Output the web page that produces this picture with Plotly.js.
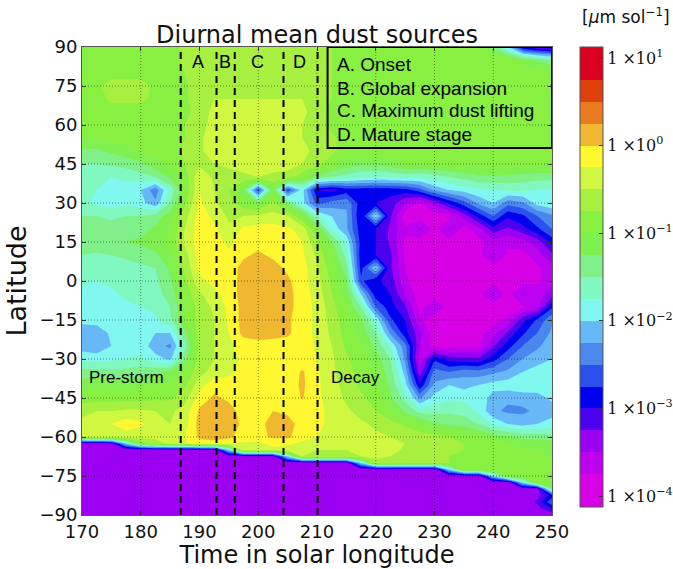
<!DOCTYPE html>
<html><head><meta charset="utf-8">
<script src="https://cdn.plot.ly/plotly-3.0.1.min.js"></script>
<style>html,body{margin:0;padding:0;background:#fff}#chart{width:673px;height:569px}</style>
</head><body><div id="chart"></div>
<script>
// Solar longitude columns
const LS = [170,172.5,175,177.5,180,182.5,185,187.5,190,192.5,195,197.5,200,202.5,205,207.5,210,212.5,215,217.5,220,222.5,225,227.5,230,232.5,235,237.5,240,242.5,245,247.5,250];
// Latitude rows (north to south)
const LAT = [90,85,80,75,70,65,60,55,50,45,40,35,30,25,20,15,10,5,0,-5,-10,-15,-20,-25,-30,-35,-40,-45,-50,-55,-60,-62.5,-65,-67.5,-70,-72.5,-75,-77.5,-80,-82.5,-85,-87.5,-90];
// log10 of dust source (um/sol), rows follow LAT, columns follow LS
const LOGDUST = [
[-0.85,-0.85,-0.85,-0.85,-0.85,-0.85,-0.85,-0.7,-0.6,-0.6,-0.6,-0.6,-0.6,-0.6,-0.6,-0.6,-0.6,-0.75,-0.88,-0.88,-0.88,-0.88,-0.88,-0.88,-0.88,-0.88,-0.88,-0.88,-1.3,-2.0,-3.0,-3.3,-3.4],
[-0.85,-0.85,-0.85,-0.85,-0.85,-0.85,-0.85,-0.7,-0.6,-0.6,-0.6,-0.6,-0.6,-0.6,-0.6,-0.6,-0.6,-0.75,-0.88,-0.88,-0.88,-0.88,-0.88,-0.88,-0.88,-0.88,-0.88,-0.88,-0.88,-0.88,-1.1,-1.3,-1.5],
[-0.85,-0.85,-0.85,-0.85,-0.85,-0.85,-0.85,-0.75,-0.6,-0.6,-0.6,-0.6,-0.6,-0.6,-0.6,-0.6,-0.6,-0.75,-0.88,-0.88,-0.88,-0.88,-0.88,-0.88,-0.88,-0.88,-0.88,-0.88,-0.88,-0.88,-0.88,-0.88,-0.88],
[-0.85,-0.8,-0.65,-0.65,-0.65,-0.8,-0.8,-0.8,-0.58,-0.58,-0.58,-0.58,-0.58,-0.58,-0.58,-0.58,-0.58,-0.75,-0.88,-0.88,-0.88,-0.88,-0.88,-0.88,-0.88,-0.88,-0.88,-0.88,-0.88,-0.88,-0.88,-0.88,-0.88],
[-0.85,-0.85,-0.7,-0.7,-0.7,-0.8,-0.8,-0.8,-0.6,-0.5,-0.5,-0.5,-0.5,-0.5,-0.5,-0.5,-0.6,-0.75,-0.88,-0.88,-0.88,-0.88,-0.88,-0.88,-0.88,-0.88,-0.88,-0.88,-0.88,-0.88,-0.88,-0.88,-0.88],
[-0.85,-0.85,-0.85,-0.85,-0.85,-0.85,-0.85,-0.85,-0.6,-0.45,-0.45,-0.45,-0.45,-0.45,-0.45,-0.45,-0.6,-0.85,-0.85,-0.85,-0.85,-0.85,-0.85,-0.85,-0.85,-0.85,-0.85,-0.85,-0.85,-0.85,-0.85,-0.85,-0.85],
[-0.9,-0.9,-0.9,-0.9,-0.9,-0.9,-0.9,-0.75,-0.6,-0.4,-0.4,-0.4,-0.4,-0.4,-0.4,-0.5,-0.6,-0.85,-0.85,-0.85,-0.85,-0.85,-0.85,-0.85,-0.85,-0.85,-0.85,-0.85,-0.85,-0.85,-0.85,-0.85,-0.85],
[-1.0,-1.0,-0.9,-0.9,-0.9,-0.9,-0.9,-0.75,-0.55,-0.35,-0.35,-0.35,-0.35,-0.35,-0.35,-0.5,-0.6,-0.7,-0.85,-0.85,-0.85,-0.85,-0.85,-0.85,-0.85,-0.85,-0.85,-0.85,-0.85,-0.85,-0.85,-0.85,-0.85],
[-1.3,-1.3,-1.2,-1.1,-0.95,-0.9,-0.88,-0.7,-0.55,-0.35,-0.35,-0.35,-0.35,-0.35,-0.35,-0.45,-0.55,-0.7,-0.85,-0.85,-0.85,-0.85,-0.85,-0.85,-0.85,-0.85,-0.85,-0.85,-0.85,-0.85,-0.85,-0.85,-0.85],
[-1.5,-1.5,-1.45,-1.4,-1.3,-1.1,-0.95,-0.75,-0.55,-0.5,-0.45,-0.4,-0.4,-0.4,-0.4,-0.5,-0.65,-0.9,-1.1,-1.2,-1.2,-1.1,-1.0,-1.0,-0.95,-0.9,-0.9,-0.9,-0.9,-0.9,-0.9,-0.9,-0.9],
[-1.65,-1.7,-1.75,-1.7,-1.6,-1.5,-1.2,-0.9,-0.3,-0.55,-0.6,-0.55,-0.5,-0.55,-0.6,-0.9,-1.3,-1.5,-1.6,-1.7,-1.75,-1.7,-1.65,-1.7,-1.6,-1.5,-1.4,-1.3,-1.3,-1.3,-1.35,-1.4,-1.4],
[-1.7,-1.75,-1.8,-1.85,-2.0,-2.4,-1.7,-1.0,-0.25,-0.5,-0.75,-1.2,-2.7,-1.1,-2.7,-1.9,-3.0,-3.1,-2.9,-2.9,-2.9,-2.9,-2.85,-2.6,-2.2,-2.0,-1.9,-1.8,-1.75,-1.7,-1.7,-1.75,-1.8],
[-1.7,-1.8,-1.85,-1.8,-1.9,-2.2,-1.5,-0.8,-0.2,-0.45,-0.7,-0.9,-1.2,-0.7,-1.3,-1.9,-2.6,-2.4,-2.3,-2.9,-3.0,-3.1,-3.5,-3.8,-3.4,-2.95,-2.6,-2.2,-2.0,-2.4,-2.3,-1.9,-1.8],
[-1.5,-1.5,-1.55,-1.5,-1.5,-1.4,-1.1,-0.6,-0.15,-0.3,-0.55,-0.5,-0.45,-0.4,-0.5,-1.0,-1.7,-2.0,-2.2,-3.0,-1.9,-3.2,-3.9,-3.9,-3.9,-3.85,-3.4,-2.9,-2.5,-2.95,-2.8,-2.5,-2.3],
[-1.4,-1.35,-1.4,-1.4,-1.35,-1.2,-1.0,-0.5,-0.12,-0.2,-0.45,-0.2,-0.15,-0.15,-0.2,-0.35,-1.0,-1.8,-2.2,-2.9,-3.0,-3.3,-3.7,-3.45,-3.85,-3.45,-3.85,-3.6,-3.1,-3.3,-3.1,-2.8,-2.5],
[-1.35,-1.3,-1.3,-1.25,-1.2,-1.1,-0.95,-0.45,-0.1,-0.15,-0.3,-0.15,-0.1,-0.12,-0.15,-0.25,-0.7,-1.2,-1.8,-2.85,-3.0,-3.3,-3.8,-3.9,-3.9,-3.85,-3.9,-3.85,-3.6,-3.7,-3.6,-3.4,-2.9],
[-1.5,-1.55,-1.5,-1.45,-1.4,-1.3,-1.1,-0.6,-0.15,-0.2,-0.2,-0.05,0.05,-0.05,-0.1,-0.2,-0.55,-1.0,-1.6,-2.9,-3.0,-3.2,-3.8,-3.9,-3.9,-3.9,-3.9,-3.85,-3.45,-3.8,-3.85,-3.6,-3.3],
[-1.65,-1.7,-1.65,-1.6,-1.55,-1.5,-1.2,-0.7,-0.2,-0.25,-0.15,0.1,0.15,0.1,-0.05,-0.15,-0.45,-0.9,-1.4,-2.85,-2.0,-3.2,-3.75,-3.9,-3.9,-3.9,-3.9,-3.9,-3.85,-3.9,-3.9,-3.8,-3.6],
[-1.7,-1.75,-1.7,-1.65,-1.6,-1.55,-1.3,-0.8,-0.3,-0.2,-0.15,0.12,0.18,0.15,0.05,-0.15,-0.4,-0.8,-1.2,-2.7,-2.95,-3.1,-3.7,-3.9,-3.9,-3.9,-3.9,-3.9,-3.85,-3.9,-3.85,-3.8,-3.6],
[-1.85,-1.9,-1.8,-1.7,-1.65,-1.6,-1.4,-0.9,-0.55,-0.3,-0.15,0.12,0.2,0.18,0.08,-0.12,-0.35,-0.75,-1.1,-2.0,-2.9,-3.0,-3.5,-3.9,-3.9,-3.9,-3.9,-3.85,-3.45,-3.85,-3.45,-3.6,-3.4],
[-1.9,-1.9,-1.85,-1.8,-1.75,-1.7,-1.5,-1.0,-0.65,-0.45,-0.2,0.1,0.2,0.2,0.1,-0.15,-0.3,-0.65,-1.0,-1.5,-2.5,-2.9,-3.2,-3.85,-3.5,-3.9,-3.9,-3.9,-3.9,-3.85,-3.8,-3.6,-2.8],
[-1.95,-1.9,-1.9,-1.85,-1.8,-1.8,-1.55,-1.0,-0.65,-0.5,-0.2,0.1,0.18,0.15,0.05,-0.15,-0.3,-0.6,-0.9,-1.2,-1.8,-2.7,-3.0,-3.7,-3.9,-3.9,-3.9,-3.9,-3.85,-3.7,-3.1,-2.7,-2.3],
[-2.1,-2.15,-1.95,-1.85,-1.8,-2.0,-2.0,-1.3,-0.65,-0.5,-0.25,0.08,0.12,0.1,0.05,-0.15,-0.3,-0.55,-0.85,-1.1,-1.5,-2.3,-2.9,-3.4,-3.9,-3.85,-3.85,-3.85,-3.6,-3.2,-2.8,-2.5,-2.2],
[-2.15,-2.2,-2.0,-1.9,-1.85,-2.15,-2.3,-1.6,-0.65,-0.5,-0.3,-0.15,-0.1,-0.12,-0.12,-0.15,-0.28,-0.5,-0.8,-1.0,-1.3,-1.8,-2.4,-3.5,-3.85,-3.85,-3.8,-3.8,-3.3,-2.85,-2.5,-2.3,-2.1],
[-1.8,-1.85,-1.8,-1.75,-1.7,-1.9,-2.05,-1.3,-0.65,-0.5,-0.35,-0.2,0.02,-0.15,-0.15,-0.12,-0.25,-0.45,-0.7,-0.9,-1.1,-1.5,-2.3,-3.7,-2.8,-3.1,-3.15,-3.2,-2.85,-2.5,-2.25,-2.1,-2.0],
[-1.4,-1.4,-1.45,-1.4,-1.35,-1.3,-1.2,-0.95,-0.6,-0.4,-0.3,-0.2,-0.15,-0.15,-0.15,0.03,-0.2,-0.45,-0.65,-0.85,-1.0,-1.4,-2.1,-3.4,-2.4,-2.5,-2.35,-2.4,-2.3,-2.2,-2.0,-1.9,-1.85],
[-1.1,-1.05,-1.1,-1.1,-1.05,-1.0,-0.95,-0.8,-0.35,-0.1,-0.15,-0.15,-0.12,-0.15,-0.15,0.05,-0.2,-0.4,-0.6,-0.8,-0.95,-1.3,-1.9,-2.95,-2.2,-2.0,-2.1,-2.0,-1.9,-1.85,-1.8,-1.85,-1.8],
[-0.9,-0.85,-0.85,-0.85,-0.85,-0.8,-0.8,-0.6,-0.15,0.05,-0.05,-0.12,-0.15,-0.15,-0.15,0.02,-0.2,-0.35,-0.55,-0.7,-0.85,-1.2,-1.6,-2.3,-1.9,-1.8,-1.8,-1.85,-2.1,-2.2,-2.15,-2.1,-1.95],
[-0.55,-0.5,-0.5,-0.45,-0.45,-0.5,-0.55,-0.4,0.05,0.15,0.1,-0.1,-0.12,0.0,-0.05,-0.1,-0.2,-0.3,-0.45,-0.6,-0.75,-1.0,-1.3,-1.6,-1.6,-1.55,-1.6,-1.8,-2.2,-2.3,-2.3,-2.2,-2.1],
[-0.45,-0.4,-0.25,-0.1,-0.2,-0.4,-0.5,-0.35,0.1,0.15,0.12,-0.05,-0.1,0.12,0.1,-0.1,-0.2,-0.3,-0.35,-0.45,-0.55,-0.65,-0.8,-1.0,-1.2,-1.3,-1.35,-1.5,-1.8,-2.0,-2.1,-2.0,-1.9],
[-0.5,-0.45,-0.4,-0.4,-0.4,-0.45,-0.4,-0.25,0.05,0.1,0.05,-0.1,-0.1,0.05,0.05,-0.15,-0.25,-0.4,-0.45,-0.45,-0.45,-0.5,-0.55,-0.6,-0.65,-0.75,-0.85,-0.95,-1.1,-1.2,-1.3,-1.35,-1.4],
[-3.4,-3.4,-3.3,-2.0,-0.9,-0.6,-0.45,-0.3,-0.1,-0.1,-0.2,-0.3,-0.3,-0.2,-0.2,-0.3,-0.35,-0.4,-0.45,-0.4,-0.3,-0.35,-0.5,-0.6,-0.65,-0.7,-0.75,-0.8,-0.9,-1.0,-1.1,-1.1,-1.1],
[-3.4,-3.4,-3.4,-3.4,-3.4,-3.4,-3.4,-3.4,-3.4,-3.4,-2.0,-0.35,-0.35,-0.3,-0.35,-0.45,-0.5,-0.5,-0.5,-0.35,-0.3,-0.4,-0.55,-0.6,-0.65,-0.7,-0.75,-0.8,-0.85,-0.9,-0.95,-1.0,-1.0],
[-3.4,-3.4,-3.4,-3.4,-3.4,-3.4,-3.4,-3.4,-3.4,-3.4,-3.4,-3.4,-3.4,-3.4,-2.0,-0.5,-0.5,-0.55,-0.55,-0.5,-0.45,-0.5,-0.6,-0.65,-0.7,-0.75,-0.8,-0.8,-0.85,-0.9,-0.9,-0.95,-1.0],
[-3.4,-3.4,-3.4,-3.4,-3.4,-3.4,-3.4,-3.4,-3.4,-3.4,-3.4,-3.4,-3.4,-3.4,-3.4,-3.4,-3.4,-3.4,-3.4,-2.0,-0.6,-0.6,-0.65,-0.7,-0.7,-0.75,-0.8,-0.8,-0.85,-0.85,-0.9,-0.9,-0.95],
[-3.4,-3.4,-3.4,-3.4,-3.4,-3.4,-3.4,-3.4,-3.4,-3.4,-3.4,-3.4,-3.4,-3.4,-3.4,-3.4,-3.4,-3.4,-3.4,-3.4,-3.4,-3.4,-3.4,-3.4,-3.4,-2.0,-0.8,-0.8,-0.8,-0.85,-0.85,-0.85,-0.9],
[-3.4,-3.4,-3.4,-3.4,-3.4,-3.4,-3.4,-3.4,-3.4,-3.4,-3.4,-3.4,-3.4,-3.4,-3.4,-3.4,-3.4,-3.4,-3.4,-3.4,-3.4,-3.4,-3.4,-3.4,-3.4,-3.4,-3.4,-3.4,-2.0,-0.85,-0.85,-0.9,-0.9],
[-3.4,-3.4,-3.4,-3.4,-3.4,-3.4,-3.4,-3.4,-3.4,-3.4,-3.4,-3.4,-3.4,-3.4,-3.4,-3.4,-3.4,-3.4,-3.4,-3.4,-3.4,-3.4,-3.4,-3.4,-3.4,-3.4,-3.4,-3.4,-3.4,-3.4,-2.0,-0.9,-1.0],
[-3.4,-3.4,-3.4,-3.4,-3.4,-3.4,-3.4,-3.4,-3.4,-3.4,-3.4,-3.4,-3.4,-3.4,-3.4,-3.4,-3.4,-3.4,-3.4,-3.4,-3.4,-3.4,-3.4,-3.4,-3.4,-3.4,-3.4,-3.4,-3.4,-3.4,-3.4,-3.4,-1.3],
[-3.4,-3.4,-3.4,-3.4,-3.4,-3.4,-3.4,-3.4,-3.4,-3.4,-3.4,-3.4,-3.4,-3.4,-3.4,-3.4,-3.4,-3.4,-3.4,-3.4,-3.4,-3.4,-3.4,-3.4,-3.4,-3.4,-3.4,-3.4,-3.4,-3.4,-3.4,-3.35,-2.9],
[-3.4,-3.4,-3.4,-3.4,-3.4,-3.4,-3.4,-3.4,-3.4,-3.4,-3.4,-3.4,-3.4,-3.4,-3.4,-3.4,-3.4,-3.4,-3.4,-3.4,-3.4,-3.4,-3.4,-3.4,-3.4,-3.4,-3.4,-3.4,-3.4,-3.4,-3.4,-3.2,-2.5],
[-3.4,-3.4,-3.4,-3.4,-3.4,-3.4,-3.4,-3.4,-3.4,-3.4,-3.4,-3.4,-3.4,-3.4,-3.4,-3.4,-3.4,-3.4,-3.4,-3.4,-3.4,-3.4,-3.4,-3.4,-3.4,-3.4,-3.4,-3.4,-3.4,-3.4,-3.4,-3.35,-3.0],
[-3.4,-3.4,-3.4,-3.4,-3.4,-3.4,-3.4,-3.4,-3.4,-3.4,-3.4,-3.4,-3.4,-3.4,-3.4,-3.4,-3.4,-3.4,-3.4,-3.4,-3.4,-3.4,-3.4,-3.4,-3.4,-3.4,-3.4,-3.4,-3.4,-3.4,-3.4,-3.4,-3.4]
];
// Discrete band colours: below-range, 20 bands from 1e-4 to 1e1, above-range
const BAND_COLORS = ['#d800e4','#d800e4','#bc00f0','#9c00f2','#4c00f0','#0000f0','#2a50f0','#4a88ee','#68b8f8','#80f8f0','#80f8c0','#80f088','#80f050','#88f040','#a8f040','#d0f840','#fff830','#f0b830','#e87a20','#e0400c','#dc0020','#dc0020'];
const CB_TICKS = [-4,-3,-2,-1,0,1];
const CB_LABELS = ['1 \u00d710<sup>\u22124</sup>','1 \u00d710<sup>\u22123</sup>','1 \u00d710<sup>\u22122</sup>','1 \u00d710<sup>\u22121</sup>','1 \u00d710<sup>0</sup>','1 \u00d710<sup>1</sup>'];
const X_TICKS = [170,180,190,200,210,220,230,240,250];
const Y_TICKS = [-90,-75,-60,-45,-30,-15,0,15,30,45,60,75,90];
const Y_LABELS = ['\u221290','\u221275','\u221260','\u221245','\u221230','\u221215','0','15','30','45','60','75','90'];
const PHASE_LINES = [186.8,192.9,196.0,204.3,210.1];
const PHASE_LETTERS = ['A','B','C','D'];
const PHASE_LETTER_X = [189.7,194.4,199.9,207.0];
const LEGEND_LINES = ['A. Onset','B. Global expansion','C. Maximum dust lifting','D. Mature stage'];
const LEGEND_Y = [83.1,74.1,65.5,56.5];

const latAsc = LAT.slice().reverse();
const zAsc = LOGDUST.slice().reverse();
const n = BAND_COLORS.length - 1;
const colorscale = BAND_COLORS.map((c, i) => [i / n, c]);

const trace = {
  type: 'contour', x: LS, y: latAsc, z: zAsc,
  autocontour: false,
  contours: {start: -4, end: 1, size: 0.25, coloring: 'fill', showlines: false},
  line: {width: 0, smoothing: 0},
  colorscale: colorscale,
  hoverinfo: 'skip',
  colorbar: {
    x: 1.0596, xanchor: 'left', xpad: 0, ypad: 0,
    y: 1.0, yanchor: 'top', len: 460, lenmode: 'pixels',
    thickness: 23, thicknessmode: 'pixels',
    outlinewidth: 1, outlinecolor: '#555',
    tickmode: 'array', tickvals: CB_TICKS, ticktext: CB_LABELS,
    ticks: 'inside', ticklen: 4, tickcolor: '#333',
    tickfont: {family: 'DejaVu Serif', size: 16, color: '#111'}
  }
};

const shapes = [];
X_TICKS.slice(1, -1).forEach(v => shapes.push({type: 'line', xref: 'x', yref: 'y', x0: v, x1: v, y0: -90, y1: 90, line: {color: 'rgba(0,0,0,0.45)', width: 1, dash: '1px,2px'}}));
Y_TICKS.slice(1, -1).forEach(v => shapes.push({type: 'line', xref: 'x', yref: 'y', x0: 170, x1: 250, y0: v, y1: v, line: {color: 'rgba(0,0,0,0.45)', width: 1, dash: '1px,2px'}}));
PHASE_LINES.forEach(v => shapes.push({type: 'line', xref: 'x', yref: 'y', x0: v, x1: v, y0: -90, y1: 90, line: {color: '#000', width: 2, dash: '7px,5px'}}));
shapes.push({type: 'rect', xref: 'x', yref: 'y', x0: 211.8, x1: 250, y0: 51.2, y1: 90, line: {color: '#000', width: 2}, fillcolor: 'rgba(0,0,0,0)'});

const annotations = [];
PHASE_LETTERS.forEach((t, i) => annotations.push({xref: 'x', yref: 'y', x: PHASE_LETTER_X[i], y: 84.3, text: t, showarrow: false, xanchor: 'center', yanchor: 'middle', font: {family: 'Liberation Sans', size: 18, color: '#000'}}));
LEGEND_LINES.forEach((t, i) => annotations.push({xref: 'x', yref: 'y', x: 213.0, y: LEGEND_Y[i], text: t, showarrow: false, xanchor: 'left', yanchor: 'middle', font: {family: 'Liberation Sans', size: 19, color: '#000'}}));
annotations.push({xref: 'x', yref: 'y', x: 170.9, y: -37.3, text: 'Pre-storm', showarrow: false, xanchor: 'left', yanchor: 'middle', font: {family: 'Liberation Sans', size: 17, color: '#000'}});
annotations.push({xref: 'x', yref: 'y', x: 212.1, y: -37.3, text: 'Decay', showarrow: false, xanchor: 'left', yanchor: 'middle', font: {family: 'Liberation Sans', size: 17, color: '#000'}});
annotations.push({xref: 'paper', yref: 'paper', x: 1.157, y: 1.066, text: '[<i>\u03bc</i>m sol<sup>\u22121</sup>]', showarrow: false, xanchor: 'center', yanchor: 'middle', font: {family: 'DejaVu Sans', size: 17, color: '#111'}});

const layout = {
  width: 673, height: 569, autosize: false,
  margin: {l: 82, r: 121, t: 47, b: 54, autoexpand: false},
  paper_bgcolor: '#fff', plot_bgcolor: '#fff',
  font: {family: 'DejaVu Sans', color: '#111'},
  title: {text: 'Diurnal mean dust sources', font: {family: 'DejaVu Sans', size: 24, color: '#111'}, x: 0.5, xref: 'paper', y: 0.94, yref: 'container', yanchor: 'middle'},
  xaxis: {range: [170, 250], tickmode: 'array', tickvals: X_TICKS, ticks: 'inside', ticklen: 4, tickcolor: '#333',
    showgrid: false, zeroline: false, showline: true, linecolor: '#555', linewidth: 1, mirror: 'ticks',
    tickfont: {family: 'DejaVu Sans', size: 18, color: '#111'},
    title: {text: 'Time in solar longitude', font: {family: 'DejaVu Sans', size: 24, color: '#111'}, standoff: 4}},
  yaxis: {range: [-90, 90], tickmode: 'array', tickvals: Y_TICKS, ticktext: Y_LABELS, ticks: 'inside', ticklen: 4, tickcolor: '#333',
    showgrid: false, zeroline: false, showline: true, linecolor: '#555', linewidth: 1, mirror: 'ticks',
    tickfont: {family: 'DejaVu Sans', size: 18, color: '#111'},
    title: {text: 'Latitude', font: {family: 'DejaVu Sans', size: 27, color: '#111'}, standoff: 4}},
  shapes: shapes,
  annotations: annotations,
  showlegend: false
};

Plotly.newPlot('chart', [trace], layout, {displayModeBar: false, staticPlot: true});
</script>
</body></html>
